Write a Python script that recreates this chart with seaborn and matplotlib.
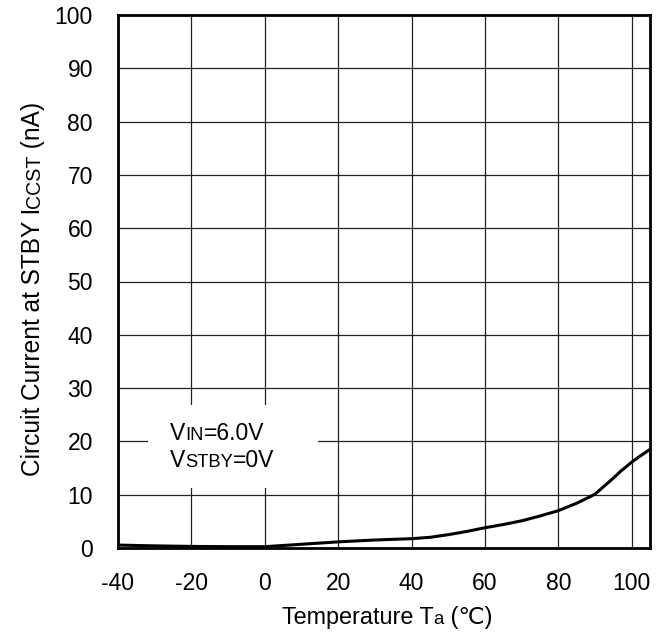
import matplotlib
matplotlib.use("Agg")
import matplotlib.pyplot as plt
import seaborn as sns
import pandas as pd

temperature = [-40, -30, -20, -10, 0, 10, 20, 30, 40, 45, 50, 55, 60, 65, 70, 75, 80, 85, 88, 90, 92, 95, 97, 100, 102, 105]
current_na = [0.55, 0.4, 0.3, 0.25, 0.25, 0.7, 1.15, 1.5, 1.75, 2.0, 2.5, 3.1, 3.8, 4.4, 5.1, 6.0, 7.0, 8.4, 9.4, 10.1, 11.3, 13.1, 14.4, 16.1, 17.1, 18.5]
x_ticks = [-40, -20, 0, 20, 40, 60, 80, 100]
y_ticks = [0, 10, 20, 30, 40, 50, 60, 70, 80, 90, 100]

sns.set_theme(style="white")
plt.rcParams['font.family'] = ['Liberation Sans', 'DejaVu Sans']

W, H, DPI = 661, 635, 100
FS = 16.5
fig = plt.figure(figsize=(W / DPI, H / DPI), dpi=DPI)
ax = fig.add_axes([118 / W, 1 - 548 / H, (650 - 118) / W, (548 - 15) / H])

df = pd.DataFrame({"T": temperature, "I": current_na})
sns.lineplot(data=df, x="T", y="I", ax=ax, color="black", linewidth=2.2, zorder=3)

ax.set_xlim(-40, 105)
ax.set_ylim(0, 100)
ax.set_xticks(x_ticks)
ax.set_yticks(y_ticks)
ax.set_xticklabels([str(v) for v in x_ticks])
ax.set_yticklabels([str(v) for v in y_ticks])
ax.tick_params(axis="both", length=0, labelsize=FS, colors="black")
ax.tick_params(axis="x", pad=17)
ax.tick_params(axis="y", pad=18)
ax.grid(True, color="#222222", linewidth=0.9)
for s in ax.spines.values():
    s.set_visible(True)
    s.set_color("black")
    s.set_linewidth(2.0)
ax.set_xlabel("")
ax.set_ylabel("")

# annotation background box
ax.add_patch(plt.Rectangle((-31.8, 11.3), 46.3, 15.5, facecolor="white", edgecolor="none", zorder=2))

fig.canvas.draw()
renderer = fig.canvas.get_renderer()


def rich(x_px, y_px, parts, size, rotation=0, center=False):
    """Place text parts (string, scale) along a baseline starting at pixel coords (from top-left)."""
    widths = []
    for s, sc in parts:
        t = fig.text(0, 0, s, fontsize=size * sc)
        widths.append(t.get_window_extent(renderer).width)
        t.remove()
    total = sum(widths)
    off = -total / 2 if center else 0
    for (s, sc), w in zip(parts, widths):
        if rotation == 0:
            px, py = x_px + off, y_px
        else:
            px, py = x_px, y_px - off
        fig.text(px / W, (H - py) / H, s, fontsize=size * sc, rotation=rotation,
                 ha="left", va="baseline", rotation_mode="anchor", color="black")
        off += w


rich(387, 624, [("Temperature T", 1.0), ("a", 0.8), (" (℃)", 1.0)], FS * 1.02, center=True)
rich(170, 440, [("V", 1.0), ("IN", 0.8), ("=6.0V", 1.0)], FS)
rich(170, 467, [("V", 1.0), ("STBY", 0.8), ("=0V", 1.0)], FS)
rich(40, 289, [("Circuit Current at STBY I", 1.0), ("CCST", 0.8), (" (nA)", 1.0)], FS * 1.07, rotation=90, center=True)

fig.savefig("out.png", dpi=DPI, facecolor="white")
